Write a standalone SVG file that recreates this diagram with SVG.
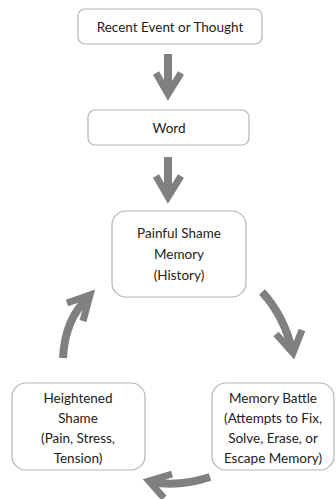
<svg xmlns="http://www.w3.org/2000/svg" width="336" height="499" viewBox="0 0 336 499">
<style>
.box{fill:#fff;stroke:#b4b4b4;stroke-width:1.2}
.t{font-family:"Lato","Noto Sans",sans-serif;font-size:13.5px;fill:#222;text-anchor:middle}
.arr{fill:none;stroke:#808080;stroke-width:8}
.head{fill:none;stroke:#808080;stroke-width:7;stroke-linejoin:miter;stroke-linecap:butt}
</style>
<rect width="336" height="499" fill="#fff"/>
<g id="connectors">
<path class="arr" d="M168,54 L168,94"/>
<path class="head" d="M156,73 L168,94 L181,73"/>
<path class="arr" d="M168,157 L168,197"/>
<path class="head" d="M156,176 L168,197 L181,176"/>
<path class="arr" d="M262,292 Q284,316 292,350"/>
<path class="head" d="M276,334 L293,353 L302,330"/>
<path class="arr" d="M63,358 Q65,318 89,297"/>
<path class="head" d="M67,303 L90,295 L83,321"/>
<path class="arr" d="M210,477 Q180,487 151,482"/>
<path class="head" d="M172,474 L149,481 L164,498"/>
</g>
<g id="recent">
<rect class="box" x="78" y="9" width="184" height="35" rx="7"/>
<text class="t" x="170" y="31.5">Recent Event or Thought</text>
</g>
<g id="word">
<rect class="box" x="88" y="110" width="161" height="35" rx="7"/>
<text class="t" x="169" y="132.5">Word</text>
</g>
<g id="painful">
<rect class="box" x="112" y="211" width="134" height="86" rx="14"/>
<text class="t" x="179" y="238">Painful Shame</text>
<text class="t" x="179" y="259">Memory</text>
<text class="t" x="179" y="280">(History)</text>
</g>
<g id="heightened">
<rect class="box" x="12" y="383" width="133" height="87" rx="14"/>
<text class="t" x="78" y="403">Heightened</text>
<text class="t" x="78" y="423">Shame</text>
<text class="t" x="78" y="443">(Pain, Stress,</text>
<text class="t" x="78" y="463">Tension)</text>
</g>
<g id="battle">
<rect class="box" x="212" y="383" width="122" height="87" rx="14"/>
<text class="t" x="273" y="403">Memory Battle</text>
<text class="t" x="273" y="423">(Attempts to Fix,</text>
<text class="t" x="273" y="443">Solve, Erase, or</text>
<text class="t" x="273" y="463">Escape Memory)</text>
</g>
</svg>
